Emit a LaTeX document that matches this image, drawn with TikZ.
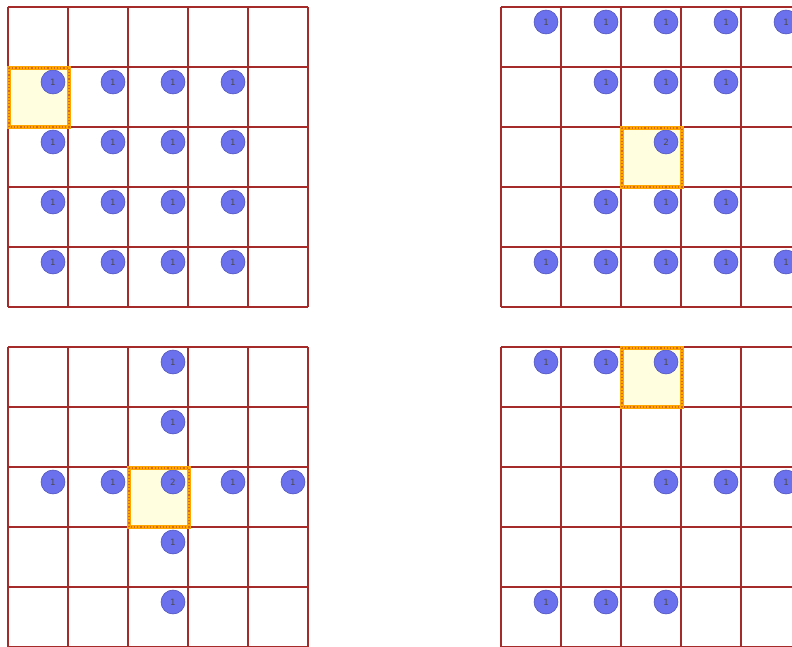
\documentclass[tikz,border=0pt]{standalone}
\usepackage{tikz}
\usepackage{fontspec}
\newfontfamily\tokenfont{DejaVu Sans}

\definecolor{gridred}{HTML}{A52A2A}
\definecolor{tokblue}{HTML}{6B70EC}
\definecolor{tokedge}{HTML}{4E52B8}
\definecolor{cellyellow}{HTML}{FFFFE0}
\definecolor{hlorange}{HTML}{FFA500}
\definecolor{hldots}{HTML}{D2691E}

\tikzset{
  gridline/.style={draw=gridred, line width=1.1pt},
  token/.style={circle, fill=tokblue, draw=tokedge, line width=0.4pt,
    minimum size=18pt, inner sep=0pt, text=black!70,
    font=\tokenfont\fontsize{6.5}{6.5}\selectfont},
  focusfill/.style={fill=cellyellow},
  focusedge/.style={draw=hlorange, line width=3.2pt},
  focusdots/.style={draw=hldots, line width=0.9pt, dash pattern=on 0.9pt off 1.5pt},
}

\begin{document}
\begin{tikzpicture}[x=0.75pt, y=-0.75pt]
        \clip (0,0) rectangle (792,646);

        % Grid lines of the four boards
        \foreach \ox/\oy in {8/7, 501/7, 8/347, 501/347} {
          \foreach \i in {0,...,5} {
            \draw[gridline] (\ox+60*\i,\oy) -- (\ox+60*\i,\oy+300);
            \draw[gridline] (\ox,\oy+60*\i) -- (\ox+300,\oy+60*\i);
          }
        }

        % Highlighted cells (fill)
        \fill[focusfill] (9,68) rectangle (69,127);
        \fill[focusfill] (622,128) rectangle (681,187);
        \fill[focusfill] (129,468) rectangle (189,527);
        \fill[focusfill] (622,348) rectangle (681,407);

        % Board A (top left)
        \foreach \r/\c in {1/0,1/1,1/2,1/3, 2/0,2/1,2/2,2/3, 3/0,3/1,3/2,3/3, 4/0,4/1,4/2,4/3}
          \node[token] (a-\r-\c) at (8+60*\c+45, 7+60*\r+15) {1};

        % Board B (top right)
        \foreach \r/\c in {0/0,0/1,0/2,0/3,0/4, 1/1,1/2,1/3, 3/1,3/2,3/3, 4/0,4/1,4/2,4/3,4/4}
          \node[token] (b-\r-\c) at (501+60*\c+45, 7+60*\r+15) {1};
        \node[token] (b-2-2) at (501+60*2+45, 7+60*2+15) {2};

        % Board C (bottom left)
        \foreach \r/\c in {0/2, 1/2, 2/0,2/1,2/3,2/4, 3/2, 4/2}
          \node[token] (c-\r-\c) at (8+60*\c+45, 347+60*\r+15) {1};
        \node[token] (c-2-2) at (8+60*2+45, 347+60*2+15) {2};

        % Board D (bottom right)
        \foreach \r/\c in {0/0,0/1,0/2, 2/2,2/3,2/4, 4/0,4/1,4/2}
          \node[token] (d-\r-\c) at (501+60*\c+45, 347+60*\r+15) {1};

        % Highlighted cells (border)
        \foreach \x/\y in {9/68, 622/128, 129/468, 622/348} {
          \draw[focusedge] (\x,\y) rectangle (\x+60,\y+59);
          \draw[focusdots] (\x,\y) rectangle (\x+60,\y+59);
        }
\end{tikzpicture}
\end{document}
